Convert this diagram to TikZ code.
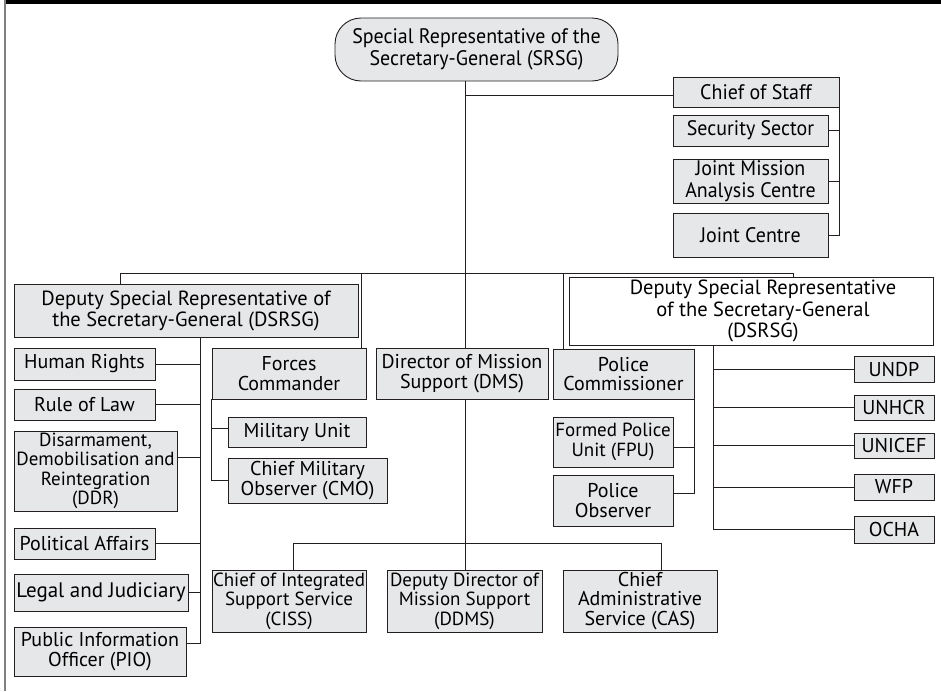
\documentclass[tikz,border=0pt]{standalone}
\usepackage{fontspec}
\setmainfont{PT Sans}
\newfontfamily\condfont[FakeStretch=0.95]{PT Sans}
\usetikzlibrary{calc}
\definecolor{boxgray}{HTML}{E6E7E8}
\definecolor{linec}{HTML}{231F20}
\tikzset{
  box/.style={draw=linec, fill=boxgray, line width=0.9pt, inner sep=0pt, align=center,
    font=\fontsize{20}{19.5}\selectfont},
  cbox/.style={box, font=\condfont\fontsize{21}{22}\selectfont},
  sbox/.style={box, font=\fontsize{19}{19.5}\selectfont},
  conn/.style={draw=linec, line width=0.8pt}
}
\newcommand{\bx}[7][]{%
  \pgfmathsetmacro\bxcx{(#3+#5)/2}%
  \pgfmathsetmacro\bxcy{(#4+#6)/2}%
  \pgfmathsetmacro\bxw{#5-#3}%
  \pgfmathsetmacro\bxh{#6-#4}%
  \node[box,minimum width=\bxw pt,minimum height=\bxh pt,#1] (#2) at (\bxcx,\bxcy) {#7};}
\begin{document}
\begin{tikzpicture}[x=1pt,y=-1pt]
\useasboundingbox (0,0) rectangle (941,691);
\fill[black] (6,0) rectangle (941,3.5);
\draw[gray, line width=1.5pt] (5,0) -- (5,691);

% top
\bx[cbox,rounded corners=26pt]{srsg}{335}{18}{618}{81}{Special Representative of the\\Secretary-General (SRSG)}
\bx[cbox]{cos}{673}{77}{839}{107}{Chief of Staff}
\bx[cbox]{ss}{673}{115}{828}{146}{Security Sector}
\bx[cbox]{jmac}{673}{159}{828}{203}{Joint Mission\\Analysis Centre}
\bx[cbox]{jc}{673}{213}{828}{257}{Joint Centre}

% second level
\bx[font=\fontsize{20.5}{21}\selectfont]{dsl}{14}{284}{358}{337}{Deputy Special Representative of\\the Secretary-General (DSRSG)}
\bx[fill=white,label={[align=center,xshift=12pt,font=\fontsize{20.5}{21.5}\selectfont]center:Deputy Special Representative\\of the Secretary-General\\(DSRSG)}]{dsr}{569}{277}{933}{345}{}
\bx{fc}{212}{348}{366}{399}{Forces\\Commander}
\bx{dms}{376}{348}{548}{399}{Director of Mission\\Support (DMS)}
\bx{pc}{553}{349}{694}{399}{Police\\Commissioner}

% left DSRSG group
\bx{hr}{14}{348}{155}{380}{Human Rights}
\bx{rol}{14}{389}{155}{420}{Rule of Law}
\bx[sbox]{ddr}{14}{431}{177}{511}{Disarmament,\\Demobilisation and\\Reintegration\\(DDR)}
\bx{pa}{14}{528}{155}{559}{Political Affairs}
\bx[font=\fontsize{21}{20}\selectfont]{lj}{14}{574}{188}{611}{Legal and Judiciary}
\bx{pio}{14}{627}{186}{676}{Public Information\\Officer (PIO)}

% forces
\bx{mu}{228}{417}{366}{447}{Military Unit}
\bx{cmo}{228}{458}{387}{503}{Chief Military\\Observer (CMO)}

% police
\bx[sbox]{fpu}{553}{417}{673}{467}{Formed Police\\Unit (FPU)}
\bx{po}{553}{475}{673}{526}{Police\\Observer}

% agencies
\bx{undp}{854}{356}{934}{382}{UNDP}
\bx{unhcr}{854}{395}{934}{420}{UNHCR}
\bx{unicef}{854}{433}{934}{458}{UNICEF}
\bx{wfp}{854}{474}{934}{500}{WFP}
\bx{ocha}{854}{516}{934}{543}{OCHA}

% mission support
\bx[sbox]{ciss}{212}{570}{366}{632}{Chief of Integrated\\Support Service\\(CISS)}
\bx[sbox]{ddms}{387}{570}{542}{632}{Deputy Director of\\Mission Support\\(DDMS)}
\bx{cas}{563}{570}{717}{632}{Chief\\Administrative\\Service (CAS)}

% connectors
\coordinate (tk) at (465,0);
\draw[conn] (srsg.south -| tk) -- (dms.north -| tk);
\coordinate (cosS) at ($(cos.west)+(0,3)$);
\draw[conn] (cosS) -- (cosS -| tk);
\draw[conn] (cos.south east) -- (cos.south east |- jc.east) -- (jc.east);
\draw[conn] (ss.east) -- (ss.east -| cos.east);
\draw[conn] (jmac.east) -- (jmac.east -| cos.east);

\coordinate (busL) at (120,273);
\coordinate (busR) at (793,273);
\draw[conn] (dsl.north -| busL) -- (busL) -- (busR) -- (busR |- dsr.north);
\coordinate (fcT) at (361,273);
\draw[conn] (fcT) -- (fcT |- fc.north);
\coordinate (pcT) at (563,273);
\draw[conn] (pcT) -- (pcT |- pc.north);

\coordinate (ls) at (200,0);
\coordinate (pioS) at ($(pio.east)+(0,-8)$);
\coordinate (ddrS) at ($(ddr.east)+(0,-14)$);
\draw[conn] (dsl.south -| ls) -- (pioS -| ls) -- (pioS);
\draw[conn] (hr.east) -- (hr.east -| ls);
\draw[conn] (rol.east) -- (rol.east -| ls);
\draw[conn] (ddrS) -- (ddrS -| ls);
\draw[conn] (pa.east) -- (pa.east -| ls);
\draw[conn] (lj.east) -- (lj.east -| ls);

\draw[conn] (fc.south west) -- (fc.south west |- cmo.west) -- (cmo.west);
\coordinate (muS) at ($(mu.west)+(0,-4)$);
\draw[conn] (muS) -- (muS -| fc.south west);

\coordinate (poS) at ($(po.east)+(0,-7)$);
\coordinate (fpuS) at ($(fpu.east)+(0,5)$);
\draw[conn] (pc.south east) -- (pc.south east |- poS) -- (poS);
\draw[conn] (fpuS) -- (fpuS -| pc.south east);

\coordinate (rs) at (713,0);
\draw[conn] (dsr.south -| rs) -- (rs |- ocha.west) -- (ocha.west);
\draw[conn] (undp.west) -- (undp.west -| rs);
\draw[conn] (unhcr.west) -- (unhcr.west -| rs);
\draw[conn] (unicef.west) -- (unicef.west -| rs);
\draw[conn] (wfp.west) -- (wfp.west -| rs);

\draw[conn] (dms.south -| tk) -- (ddms.north -| tk);
\coordinate (b2L) at (293,543);
\coordinate (b2R) at (661,543);
\draw[conn] (ciss.north -| b2L) -- (b2L) -- (b2R) -- (cas.north -| b2R);
\end{tikzpicture}
\end{document}
